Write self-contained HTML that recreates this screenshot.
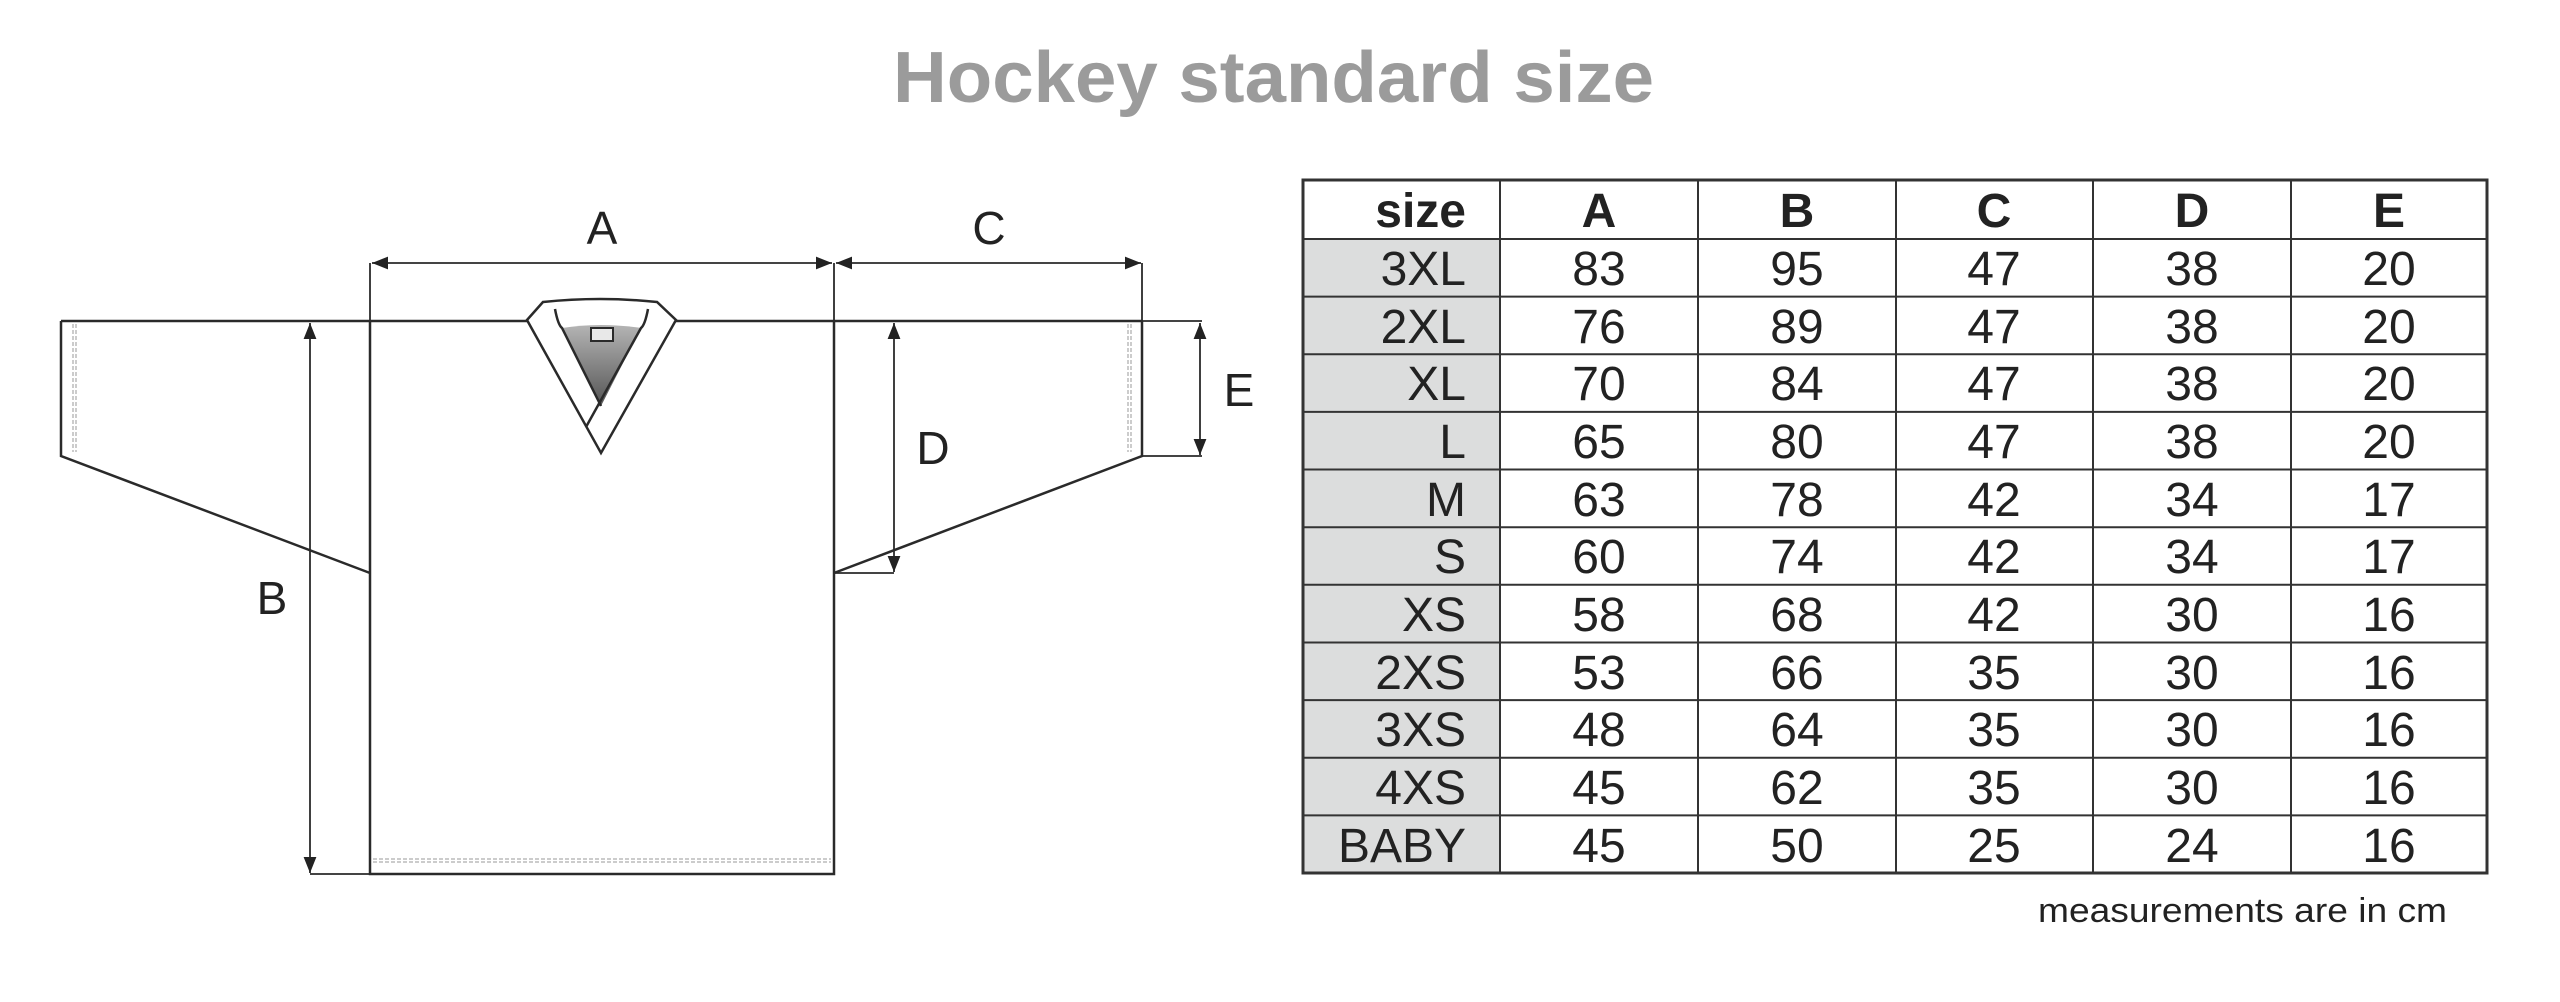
<!DOCTYPE html>
<html><head><meta charset="utf-8"><style>
html,body{margin:0;padding:0;background:#fff;}
body{width:2560px;height:1002px;position:relative;overflow:hidden;font-family:"Liberation Sans",sans-serif;}
svg{position:absolute;left:0;top:0;}
</style></head><body>
<svg width="2560" height="1002" viewBox="0 0 2560 1002" xmlns="http://www.w3.org/2000/svg">
<defs>
<linearGradient id="g" x1="0" y1="0" x2="0" y2="1"><stop offset="0" stop-color="#b4b4b4"/><stop offset="1" stop-color="#555"/></linearGradient>
<marker id="ah" viewBox="0 0 10 10" refX="10" refY="5" markerWidth="16" markerHeight="16" markerUnits="userSpaceOnUse" orient="auto-start-reverse"><path d="M0,1 L10,5 L0,9 z" fill="#222"/></marker>
</defs>
<text x="893" y="102" font-family="Liberation Sans, sans-serif" font-weight="bold" font-size="72" fill="#9b9b9b" textLength="761" lengthAdjust="spacingAndGlyphs">Hockey standard size</text>
<g stroke="#2a2a2a" stroke-width="2.5" fill="none">
<path d="M370 321 L370 874 L834 874 L834 321"/>
<path d="M61 321 L528 321 M676 321 L1142 321"/>
<path d="M61 321 L61 456 L370 573"/>
<path d="M1142 321 L1142 456 L834 573"/>
<path d="M527 320 L543 302 Q600 296 657 302 L676 320 L601 453 Z" fill="#fff"/>
<path d="M562 328 Q600 322 641 328 L601 406 Z" fill="url(#g)" stroke="none"/>
<path d="M555 309 Q558 325 562 328 L601 406"/>
<path d="M648 309 Q645 325 641 328 L586 427"/>
<rect x="591" y="328" width="22" height="13" fill="#e8e8e8" stroke-width="2"/>
<g stroke-width="1.8">
<line x1="370" y1="263" x2="370" y2="321"/>
<line x1="834" y1="263" x2="834" y2="321"/>
<line x1="1142" y1="263" x2="1142" y2="321"/>
<line x1="372" y1="263" x2="832" y2="263" marker-start="url(#ah)" marker-end="url(#ah)"/>
<line x1="836" y1="263" x2="1141" y2="263" marker-start="url(#ah)" marker-end="url(#ah)"/>
<line x1="310" y1="323" x2="310" y2="873" marker-start="url(#ah)" marker-end="url(#ah)"/>
<line x1="310" y1="874" x2="370" y2="874"/>
<line x1="894" y1="323" x2="894" y2="572" marker-start="url(#ah)" marker-end="url(#ah)"/>
<line x1="834" y1="573" x2="894" y2="573"/>
<line x1="1142" y1="321" x2="1202" y2="321"/>
<line x1="1142" y1="456" x2="1202" y2="456"/>
<line x1="1200" y1="323" x2="1200" y2="455" marker-start="url(#ah)" marker-end="url(#ah)"/>
</g>
</g>
<g stroke="#bbb" stroke-width="1.5" fill="none" stroke-dasharray="4 2">
<line x1="73" y1="324" x2="73" y2="452"/><line x1="76" y1="324" x2="76" y2="452"/>
<line x1="1131" y1="324" x2="1131" y2="452"/><line x1="1128" y1="324" x2="1128" y2="452"/>
<line x1="373" y1="859" x2="831" y2="859"/><line x1="373" y1="862" x2="831" y2="862"/>
</g>
<g font-family="Liberation Sans, sans-serif" font-size="46" fill="#222" text-anchor="middle">
<text x="602" y="244">A</text>
<text x="989" y="244">C</text>
<text x="272" y="614">B</text>
<text x="933" y="464">D</text>
<text x="1239" y="406">E</text>
</g>
<rect x="1303" y="239" width="197" height="634" fill="#dcdddd"/>
<g stroke="#333" stroke-width="2" fill="none">
<line x1="1500" y1="180" x2="1500" y2="873"/>
<line x1="1698" y1="180" x2="1698" y2="873"/>
<line x1="1896" y1="180" x2="1896" y2="873"/>
<line x1="2093" y1="180" x2="2093" y2="873"/>
<line x1="2291" y1="180" x2="2291" y2="873"/>
<line x1="1303" y1="239" x2="2487" y2="239"/>
<line x1="1303" y1="296.6" x2="2487" y2="296.6"/>
<line x1="1303" y1="354.3" x2="2487" y2="354.3"/>
<line x1="1303" y1="411.9" x2="2487" y2="411.9"/>
<line x1="1303" y1="469.5" x2="2487" y2="469.5"/>
<line x1="1303" y1="527.2" x2="2487" y2="527.2"/>
<line x1="1303" y1="584.8" x2="2487" y2="584.8"/>
<line x1="1303" y1="642.5" x2="2487" y2="642.5"/>
<line x1="1303" y1="700.1" x2="2487" y2="700.1"/>
<line x1="1303" y1="757.7" x2="2487" y2="757.7"/>
<line x1="1303" y1="815.4" x2="2487" y2="815.4"/>
<rect x="1303" y="180" width="1184" height="693" stroke-width="3"/>
</g>
<g font-family="Liberation Sans, sans-serif" font-size="48" fill="#222">
<g font-weight="bold" text-anchor="middle">
<text x="1466" y="227" text-anchor="end">size</text>
<text x="1599" y="227">A</text><text x="1797" y="227">B</text><text x="1994" y="227">C</text><text x="2192" y="227">D</text><text x="2389" y="227">E</text>
</g>
<g text-anchor="end">
<text x="1466" y="285">3XL</text><text x="1466" y="343">2XL</text><text x="1466" y="400">XL</text><text x="1466" y="458">L</text><text x="1466" y="516">M</text><text x="1466" y="573">S</text><text x="1466" y="631">XS</text><text x="1466" y="689">2XS</text><text x="1466" y="746">3XS</text><text x="1466" y="804">4XS</text><text x="1466" y="862">BABY</text>
</g>
<g text-anchor="middle">
<text x="1599" y="285">83</text><text x="1797" y="285">95</text><text x="1994" y="285">47</text><text x="2192" y="285">38</text><text x="2389" y="285">20</text>
<text x="1599" y="343">76</text><text x="1797" y="343">89</text><text x="1994" y="343">47</text><text x="2192" y="343">38</text><text x="2389" y="343">20</text>
<text x="1599" y="400">70</text><text x="1797" y="400">84</text><text x="1994" y="400">47</text><text x="2192" y="400">38</text><text x="2389" y="400">20</text>
<text x="1599" y="458">65</text><text x="1797" y="458">80</text><text x="1994" y="458">47</text><text x="2192" y="458">38</text><text x="2389" y="458">20</text>
<text x="1599" y="516">63</text><text x="1797" y="516">78</text><text x="1994" y="516">42</text><text x="2192" y="516">34</text><text x="2389" y="516">17</text>
<text x="1599" y="573">60</text><text x="1797" y="573">74</text><text x="1994" y="573">42</text><text x="2192" y="573">34</text><text x="2389" y="573">17</text>
<text x="1599" y="631">58</text><text x="1797" y="631">68</text><text x="1994" y="631">42</text><text x="2192" y="631">30</text><text x="2389" y="631">16</text>
<text x="1599" y="689">53</text><text x="1797" y="689">66</text><text x="1994" y="689">35</text><text x="2192" y="689">30</text><text x="2389" y="689">16</text>
<text x="1599" y="746">48</text><text x="1797" y="746">64</text><text x="1994" y="746">35</text><text x="2192" y="746">30</text><text x="2389" y="746">16</text>
<text x="1599" y="804">45</text><text x="1797" y="804">62</text><text x="1994" y="804">35</text><text x="2192" y="804">30</text><text x="2389" y="804">16</text>
<text x="1599" y="862">45</text><text x="1797" y="862">50</text><text x="1994" y="862">25</text><text x="2192" y="862">24</text><text x="2389" y="862">16</text>
</g>
</g>
<text x="2447" y="922" text-anchor="end" font-family="Liberation Sans, sans-serif" font-size="34" fill="#222" textLength="409" lengthAdjust="spacingAndGlyphs">measurements are in cm</text>
</svg>
</body></html>
